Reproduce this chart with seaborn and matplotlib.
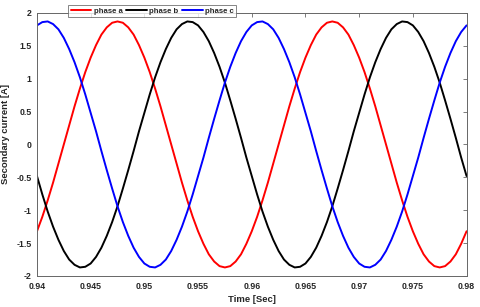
import matplotlib
matplotlib.use("Agg")
import matplotlib.pyplot as plt
import seaborn as sns
import pandas as pd

# sampled time instants [s]
time = [
    0.9400, 0.9405, 0.9410, 0.9415, 0.9420, 0.9425, 0.9430, 0.9435, 0.9440, 0.9445,
    0.9450, 0.9455, 0.9460, 0.9465, 0.9470, 0.9475, 0.9480, 0.9485, 0.9490, 0.9495,
    0.9500, 0.9505, 0.9510, 0.9515, 0.9520, 0.9525, 0.9530, 0.9535, 0.9540, 0.9545,
    0.9550, 0.9555, 0.9560, 0.9565, 0.9570, 0.9575, 0.9580, 0.9585, 0.9590, 0.9595,
    0.9600, 0.9605, 0.9610, 0.9615, 0.9620, 0.9625, 0.9630, 0.9635, 0.9640, 0.9645,
    0.9650, 0.9655, 0.9660, 0.9665, 0.9670, 0.9675, 0.9680, 0.9685, 0.9690, 0.9695,
    0.9700, 0.9705, 0.9710, 0.9715, 0.9720, 0.9725, 0.9730, 0.9735, 0.9740, 0.9745,
    0.9750, 0.9755, 0.9760, 0.9765, 0.9770, 0.9775, 0.9780, 0.9785, 0.9790, 0.9795,
    0.9800,
]

# secondary currents [A]
phase_a = [
    -1.32, -1.10, -0.85, -0.58, -0.29, 0.00, 0.29, 0.58, 0.85, 1.10,
    1.32, 1.51, 1.67, 1.78, 1.85, 1.87, 1.85, 1.78, 1.67, 1.51,
    1.32, 1.10, 0.85, 0.58, 0.29, 0.00, -0.29, -0.58, -0.85, -1.10,
    -1.32, -1.51, -1.67, -1.78, -1.85, -1.87, -1.85, -1.78, -1.67, -1.51,
    -1.32, -1.10, -0.85, -0.58, -0.29, 0.00, 0.29, 0.58, 0.85, 1.10,
    1.32, 1.51, 1.67, 1.78, 1.85, 1.87, 1.85, 1.78, 1.67, 1.51,
    1.32, 1.10, 0.85, 0.58, 0.29, 0.00, -0.29, -0.58, -0.85, -1.10,
    -1.32, -1.51, -1.67, -1.78, -1.85, -1.87, -1.85, -1.78, -1.67, -1.51,
    -1.32,
]
phase_b = [
    -0.48, -0.76, -1.02, -1.25, -1.45, -1.62, -1.75, -1.83, -1.87, -1.86,
    -1.81, -1.71, -1.57, -1.39, -1.18, -0.94, -0.67, -0.39, -0.10, 0.20,
    0.48, 0.76, 1.02, 1.25, 1.45, 1.62, 1.75, 1.83, 1.87, 1.86,
    1.81, 1.71, 1.57, 1.39, 1.18, 0.94, 0.67, 0.39, 0.10, -0.20,
    -0.48, -0.76, -1.02, -1.25, -1.45, -1.62, -1.75, -1.83, -1.87, -1.86,
    -1.81, -1.71, -1.57, -1.39, -1.18, -0.94, -0.67, -0.39, -0.10, 0.20,
    0.48, 0.76, 1.02, 1.25, 1.45, 1.62, 1.75, 1.83, 1.87, 1.86,
    1.81, 1.71, 1.57, 1.39, 1.18, 0.94, 0.67, 0.39, 0.10, -0.20,
    -0.48,
]
phase_c = [
    1.81, 1.86, 1.87, 1.83, 1.75, 1.62, 1.45, 1.25, 1.02, 0.76,
    0.48, 0.20, -0.10, -0.39, -0.67, -0.94, -1.18, -1.39, -1.57, -1.71,
    -1.81, -1.86, -1.87, -1.83, -1.75, -1.62, -1.45, -1.25, -1.02, -0.76,
    -0.48, -0.20, 0.10, 0.39, 0.67, 0.94, 1.18, 1.39, 1.57, 1.71,
    1.81, 1.86, 1.87, 1.83, 1.75, 1.62, 1.45, 1.25, 1.02, 0.76,
    0.48, 0.20, -0.10, -0.39, -0.67, -0.94, -1.18, -1.39, -1.57, -1.71,
    -1.81, -1.86, -1.87, -1.83, -1.75, -1.62, -1.45, -1.25, -1.02, -0.76,
    -0.48, -0.20, 0.10, 0.39, 0.67, 0.94, 1.18, 1.39, 1.57, 1.71,
    1.81,
]

phase_names = ["phase a", "phase b", "phase c"]
phase_colors = ["#ff0000", "#000000", "#0000ff"]

x_ticks = [0.94, 0.945, 0.95, 0.955, 0.96, 0.965, 0.97, 0.975, 0.98]
x_tick_labels = ["0.94", "0.945", "0.95", "0.955", "0.96", "0.965", "0.97", "0.975", "0.98"]
y_ticks = [-2, -1.5, -1, -0.5, 0, 0.5, 1, 1.5, 2]
y_tick_labels = ["-2", "-1.5", "-1", "-0.5", "0", "0.5", "1", "1.5", "2"]

sns.set_style("white")
plt.rcParams["font.family"] = ["Liberation Sans", "DejaVu Sans"]
plt.rcParams["font.weight"] = "bold"

df = pd.DataFrame({
    "time": time * 3,
    "current": phase_a + phase_b + phase_c,
    "phase": [phase_names[0]] * len(time) + [phase_names[1]] * len(time) + [phase_names[2]] * len(time),
})

fig = plt.figure(figsize=(4.8, 3.07), dpi=100)
ax = fig.add_axes([0.077, 0.101, 0.895, 0.857])

sns.lineplot(data=df, x="time", y="current", hue="phase", palette=phase_colors,
             linewidth=1.4, errorbar=None, ax=ax)

ax.set_xlim(0.94, 0.98)
ax.set_ylim(-2, 2)
ax.set_xticks(x_ticks)
ax.set_xticklabels(x_tick_labels)
ax.set_yticks(y_ticks)
ax.set_yticklabels(y_tick_labels)
ax.tick_params(direction="in", top=True, right=True, length=3, width=0.6,
               color="#666666", labelsize=6.3, pad=4)
for lab in ax.get_xticklabels() + ax.get_yticklabels():
    lab.set_fontweight("bold")

for sp in ax.spines.values():
    sp.set_color("#666666")
    sp.set_linewidth(0.7)

ax.set_xlabel("Time [Sec]", fontsize=6.8, fontweight="bold", labelpad=3)
ax.set_ylabel("Secondary current [A]", fontsize=6.8, fontweight="bold")
ax.yaxis.set_label_coords(-0.062, 0.54)

sns.move_legend(ax, "center", bbox_to_anchor=(0.2686, 1.0076), ncol=3, title=None,
                frameon=True, fancybox=False, fontsize=5.6, handlelength=2.6,
                handletextpad=0.35, columnspacing=0.5, borderpad=0.3,
                borderaxespad=0)
leg = ax.get_legend()
leg.get_frame().set_edgecolor("#666666")
leg.get_frame().set_linewidth(0.7)
for t in leg.get_texts():
    t.set_fontweight("bold")

fig.savefig("out.png", dpi=100)
